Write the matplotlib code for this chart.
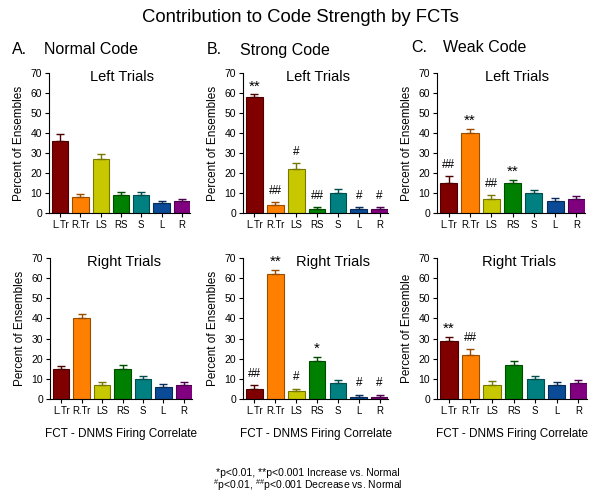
import numpy as np
import matplotlib
matplotlib.use("Agg")
import matplotlib.pyplot as plt
from matplotlib.colors import to_rgb

plt.rcParams['font.family'] = ['Liberation Sans', 'DejaVu Sans']
plt.rcParams['mathtext.fontset'] = 'custom'
plt.rcParams['mathtext.rm'] = 'Liberation Sans'
plt.rcParams['mathtext.it'] = 'Liberation Sans'

# categories and colours
fcts = ['L.Tr', 'R.Tr', 'LS', 'RS', 'S', 'L', 'R']
bar_colors = ['#800000', '#ff8000', '#c8c800', '#008000', '#008080', '#0b4a96', '#800080']

# A. Normal code
normal_left = [36, 8, 27, 9, 9, 5, 6]
normal_left_err = [3.5, 1.5, 2.5, 1.5, 1.5, 1.0, 1.0]
normal_right = [15, 40, 7, 15, 10, 6, 7]
normal_right_err = [1.5, 2, 1.3, 2, 1.3, 1.3, 1.3]

# B. Strong code
strong_left = [58, 4, 22, 2, 10, 2, 2]
strong_left_err = [1.3, 1.5, 3, 1, 2, 1, 1]
strong_left_sig = ['**', '##', '#', '##', '', '#', '#']
strong_right = [5, 62, 4, 19, 8, 1, 1]
strong_right_err = [2, 2, 1.2, 2, 1.3, 1.2, 1.2]
strong_right_sig = ['##', '**', '#', '*', '', '#', '#']

# C. Weak code
weak_left = [15, 40, 7, 15, 10, 6, 7]
weak_left_err = [3.3, 2, 2, 1.5, 1.5, 1.5, 1.7]
weak_left_sig = ['##', '**', '##', '**', '', '', '']
weak_right = [29, 22, 7, 17, 10, 7, 8]
weak_right_err = [2, 3, 1.7, 2, 1.5, 1.3, 1.3]
weak_right_sig = ['**', '##', '', '', '', '', '']

W, H = 601, 495
fig = plt.figure(figsize=(W / 100, H / 100), dpi=100)


def px_axes(x0, x1, ytop, ybot):
    return fig.add_axes([x0 / W, 1 - ybot / H, (x1 - x0) / W, (ybot - ytop) / H])


def darker(c, f=0.6):
    r, g, b = to_rgb(c)
    return (r * f, g * f, b * f)


def panel(ax, vals, errs, sig, subtitle, ylabel, xlabel=None, sub_x=0.52):
    x = np.arange(len(fcts))
    edges = [darker(c) for c in bar_colors]
    ax.bar(x, vals, width=0.8, color=bar_colors, edgecolor=edges, linewidth=0.8, zorder=2)
    for i in range(len(x)):
        ax.errorbar(x[i], vals[i], yerr=[[0], [errs[i]]], fmt='none', ecolor=edges[i],
                    elinewidth=1, capsize=3, capthick=1, zorder=3)
    if sig is not None:
        for i, s in enumerate(sig):
            if not s:
                continue
            top = vals[i] + errs[i]
            if '*' in s:
                ax.text(x[i], top + 4.0, s, ha='center', va='center', fontsize=11)
            else:
                ax.text(x[i], top + 5.5, s, ha='center', va='center', fontsize=8.5)
    ax.set_xlim(-0.55, 6.4)
    ax.set_ylim(0, 70)
    ax.set_yticks(range(0, 71, 10))
    ax.set_xticks(x)
    ax.set_xticklabels(fcts)
    ax.spines['top'].set_visible(False)
    ax.spines['right'].set_visible(False)
    ax.tick_params(axis='y', labelsize=7.5, length=3, direction='out', pad=2)
    ax.tick_params(axis='x', labelsize=7, length=3, direction='out', pad=2)
    ax.set_ylabel(ylabel, fontsize=8.5, labelpad=4)
    ax.text(sub_x, 0.97, subtitle, transform=ax.transAxes, ha='center', va='center', fontsize=10.5)
    if xlabel:
        ax.set_xlabel(xlabel, fontsize=8.5, labelpad=9)


ax1 = px_axes(49, 190, 73, 213)
ax2 = px_axes(243, 388, 73, 213)
ax3 = px_axes(437, 585, 73, 213)
ax4 = px_axes(50, 192, 258, 399)
ax5 = px_axes(243, 388, 258, 399)
ax6 = px_axes(437, 587, 258, 399)

panel(ax1, normal_left, normal_left_err, None, 'Left Trials', 'Percent of Ensembles')
panel(ax2, strong_left, strong_left_err, strong_left_sig, 'Left Trials', 'Percent of Ensembles')
panel(ax3, weak_left, weak_left_err, weak_left_sig, 'Left Trials', 'Percent of Ensembles', sub_x=0.54)
panel(ax4, normal_right, normal_right_err, None, 'Right Trials', 'Percent of Ensembles',
      'FCT - DNMS Firing Correlate')
panel(ax5, strong_right, strong_right_err, strong_right_sig, 'Right Trials', 'Percent of Ensembles',
      'FCT - DNMS Firing Correlate', sub_x=0.62)
panel(ax6, weak_right, weak_right_err, weak_right_sig, 'Right Trials', 'Percent of Ensemble',
      'FCT - DNMS Firing Correlate', sub_x=0.55)

fig.text(0.5, 1 - 18 / H, 'Contribution to Code Strength by FCTs', ha='center', va='center', fontsize=13.3)

headers = [('A.', 'Normal Code', 12, 44, 50), ('B.', 'Strong Code', 207, 240, 50),
           ('C.', 'Weak Code', 411, 443, 48)]
for letter, name, xl, xn, yh in headers:
    fig.text(xl / W, 1 - yh / H, letter, ha='left', va='center', fontsize=11.5)
    fig.text(xn / W, 1 - yh / H, name, ha='left', va='center', fontsize=11.5)

fig.text(308 / W, 1 - 473 / H, '*p<0.01, **p<0.001 Increase vs. Normal',
         ha='center', va='center', fontsize=7.5)
fig.text(308 / W, 1 - 485 / H, r'$^{\#}$p<0.01, $^{\#\#}$p<0.001 Decrease vs. Normal',
         ha='center', va='center', fontsize=7.5)

fig.savefig('out.png', dpi=100)
